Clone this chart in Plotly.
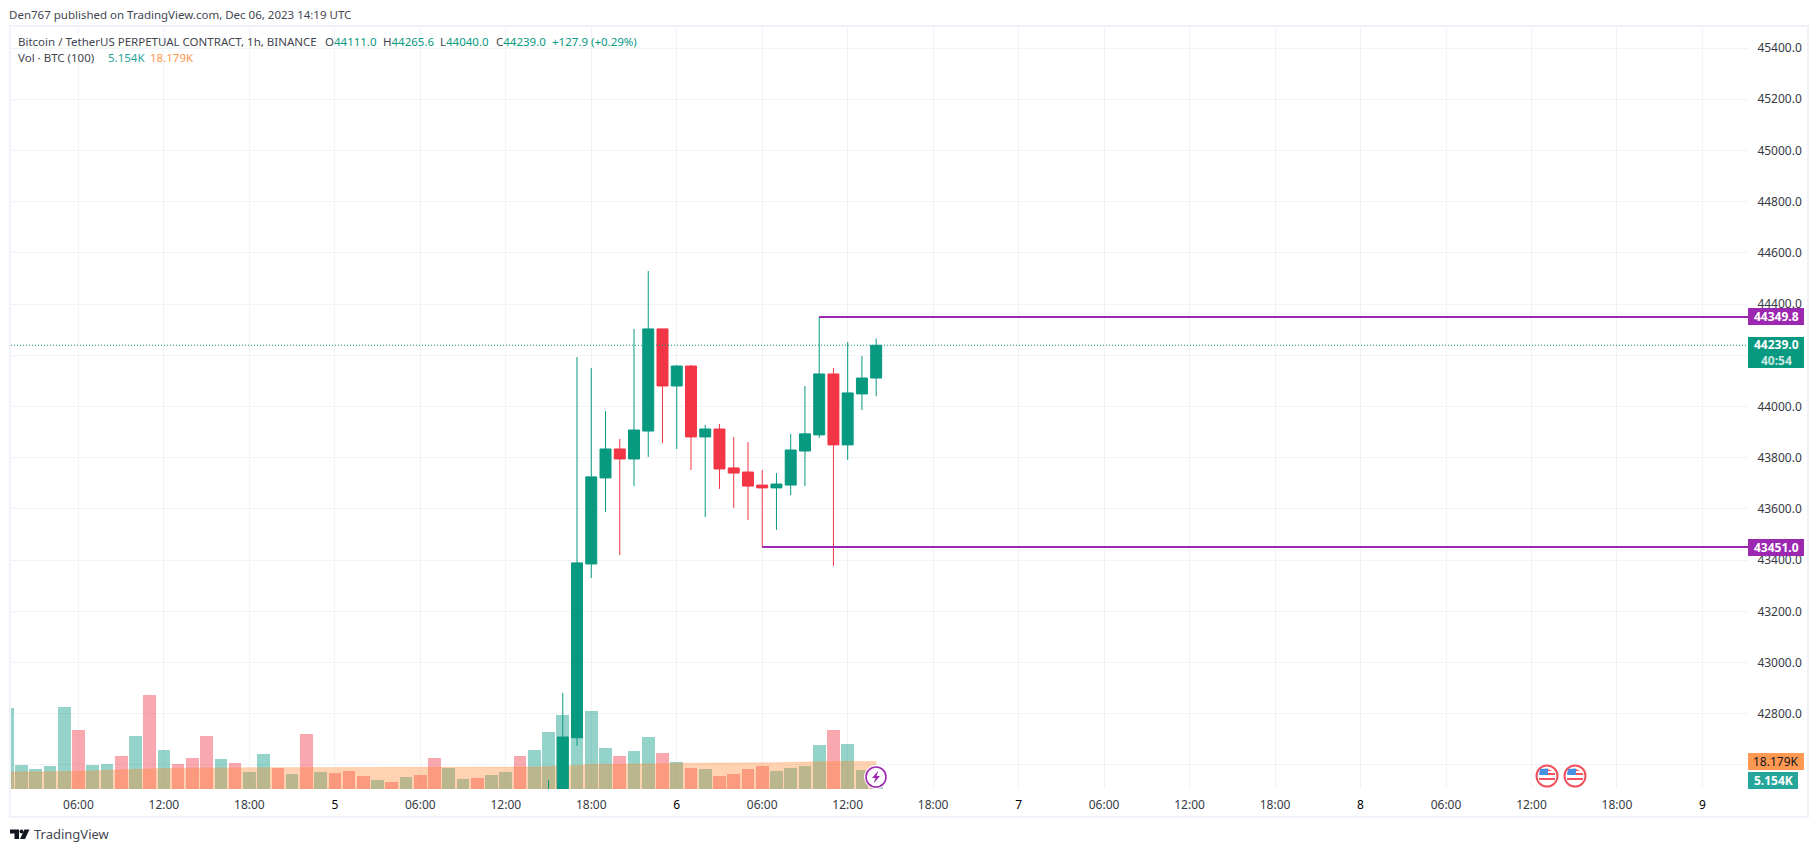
import plotly.graph_objects as go
from datetime import datetime, timedelta

# ---------- data ----------
vol_start = datetime(2023, 12, 4, 1)
volume_k = [53.5, 15.9, 13.2, 15.2, 54.2, 39.0, 15.9, 16.5, 21.8, 35.0, 62.1, 25.8, 16.5, 20.5, 35.0, 19.8, 17.2, 11.2, 23.1, 13.9, 9.9, 36.4, 11.2,
            10.6, 11.9, 8.6, 5.9, 4.6, 7.9, 9.3, 20.5, 13.9, 6.6, 7.3, 9.3, 11.2, 21.8, 25.8, 37.7, 48.9, 125.6, 51.6, 27.1, 21.8, 25.1, 34.4, 23.8,
            17.8, 13.9, 13.2, 8.6, 9.9, 13.2, 15.2, 11.9, 13.9, 15.2, 29.1, 39.0, 29.7, 12.6, 5.154]
vol_up = [1,1,1,1,1,0,1,1,0,1,0,1,0,0,0,1,0,1,1,0,1,0,1,
          0,0,0,1,0,1,0,0,1,1,0,1,1,0,1,1,1,1,1,1,0,1,1,0,
          1,0,1,0,0,0,0,1,1,1,1,0,1,1,1]
vol_ma_k = [11.2, 11.2, 11.2, 11.2, 11.5, 11.7, 12.1, 12.3, 12.6, 13.0, 13.4, 13.7, 13.7, 13.9, 13.9, 14.1, 14.1, 14.1, 14.1, 14.1, 14.1, 14.1, 14.1,
            14.3, 14.3, 14.3, 14.3, 14.3, 14.3, 14.3, 14.3, 14.3, 14.3, 14.3, 14.3, 14.3, 14.5, 14.5, 14.8, 15.0, 15.6, 16.3, 16.3, 16.3, 16.5, 16.5, 16.7,
            17.0, 17.0, 17.2, 17.2, 17.2, 17.2, 17.4, 17.4, 17.6, 17.8, 18.1, 18.1, 18.3, 18.2, 18.179]

candle_start = datetime(2023, 12, 5, 15)
opens  = [42400, 42470, 42706, 43385, 43721, 43834, 43795, 43904, 44303, 44080, 44158, 43881, 43912, 43760, 43744, 43693, 43682, 43693, 43826, 43889, 44127, 43850, 44049, 44111]
highs  = [42541, 42881, 44193, 44150, 43982, 43873, 44303, 44529, 44303, 44162, 44162, 43928, 43932, 43881, 43861, 43752, 43740, 43893, 44080, 44349.8, 44150, 44252, 44197, 44265.6]
lows   = [42350, 42420, 42675, 43330, 43588, 43420, 43689, 43803, 43857, 43834, 43752, 43568, 43678, 43604, 43557, 43451, 43518, 43654, 43689, 43877, 43377, 43791, 43986, 44040]
closes = [42480, 42709, 43389, 43725, 43834, 43795, 43908, 44303, 44080, 44158, 43881, 43912, 43756, 43740, 43689, 43682, 43697, 43830, 43893, 44127, 43850, 44053, 44111, 44239]

price_ticks = [42600 + 200 * i for i in range(15)]
time_ticks = ["2023-12-04 06:00", "2023-12-04 12:00", "2023-12-04 18:00", "2023-12-05 00:00", "2023-12-05 06:00", "2023-12-05 12:00", "2023-12-05 18:00",
              "2023-12-06 00:00", "2023-12-06 06:00", "2023-12-06 12:00", "2023-12-06 18:00", "2023-12-07 00:00", "2023-12-07 06:00", "2023-12-07 12:00", "2023-12-07 18:00",
              "2023-12-08 00:00", "2023-12-08 06:00", "2023-12-08 12:00", "2023-12-08 18:00", "2023-12-09 00:00"]
time_labels = ["06:00", "12:00", "18:00", "5", "06:00", "12:00", "18:00", "6", "06:00", "12:00", "18:00", "7", "06:00", "12:00", "18:00", "8", "06:00", "12:00", "18:00", "9"]
high_level = 44349.8
low_level = 43451.0
last_price = 44239.0

GREEN = "#089981"
RED = "#F23645"
PURPLE = "#9C27B0"
FONT = "Noto Sans"

# ---------- geometry helpers for decoration only ----------
L, R, T, B = 11, 1748, 26, 789
fx = lambda x: (x - L) / (R - L)
fy = lambda y: (B - y) / (B - T)

vol_x = [vol_start + timedelta(hours=i) for i in range(len(volume_k))]
candle_x = [candle_start + timedelta(hours=i) for i in range(len(opens))]

fig = go.Figure()
fig.add_bar(x=vol_x, y=volume_k, width=3600000 * 0.89,
            marker=dict(color=["rgba(8,153,129,0.43)" if u else "rgba(242,54,69,0.43)" for u in vol_up], line_width=0),
            xaxis="x", yaxis="y", hoverinfo="skip", showlegend=False)
fig.add_scatter(x=vol_x, y=vol_ma_k, mode="lines", fill="tozeroy",
                line=dict(color="rgba(255,152,80,0.25)", width=1), fillcolor="rgba(255,130,40,0.36)",
                xaxis="x", yaxis="y", hoverinfo="skip", showlegend=False)
fig.add_candlestick(x=candle_x, open=opens, high=highs, low=lows, close=closes,
                    increasing=dict(line=dict(color=GREEN, width=1), fillcolor=GREEN),
                    decreasing=dict(line=dict(color=RED, width=1), fillcolor=RED),
                    xaxis="x", yaxis="y2", showlegend=False)

shapes = []
# last price dotted
shapes.append(dict(type="line", xref="paper", x0=0, x1=1, yref="y2", y0=last_price, y1=last_price,
                   line=dict(color=GREEN, width=1, dash="1px,2px")))
# levels
shapes.append(dict(type="line", xref="x", x0="2023-12-06 10:00", x1="2023-12-09 03:12", yref="y2", y0=high_level, y1=high_level,
                   line=dict(color=PURPLE, width=2)))
shapes.append(dict(type="line", xref="x", x0="2023-12-06 06:00", x1="2023-12-09 03:12", yref="y2", y0=low_level, y1=low_level,
                   line=dict(color=PURPLE, width=2)))

def prect(x0, y0, x1, y1, **kw):
    shapes.append(dict(type="rect", xref="paper", yref="paper", x0=fx(x0), x1=fx(x1), y0=fy(y0), y1=fy(y1), layer="above", **kw))

def pcirc(cx, cy, r, **kw):
    prect(cx - r, cy - r, cx + r, cy + r, **{**kw})
    shapes[-1]["type"] = "circle"

def ppath(points, **kw):
    d = "M" + " L".join(f"{fx(x):.5f},{fy(y):.5f}" for x, y in points) + " Z"
    shapes.append(dict(type="path", xref="paper", yref="paper", path=d, layer="above", **kw))

# outer frame
prect(10, 26, 1808, 817, line=dict(color="#F0F3FA", width=2), fillcolor="rgba(0,0,0,0)")

# lightning icon
pcirc(876, 777, 11.5, line=dict(color="white", width=1), fillcolor="white")
pcirc(876, 777, 10, line=dict(color=PURPLE, width=1.6), fillcolor="white")
ppath([(878.5, 770.5), (872, 778), (875.5, 778), (873.5, 783.5), (880, 776), (876.5, 776)], fillcolor=PURPLE, line_width=0)

# US flag icons
for cx in (1547, 1575):
    cy = 776
    pcirc(cx, cy, 10.5, line=dict(color="#F2525E", width=2), fillcolor="white")
    ppath([(cx - 7, cy - 7), (cx + 1, cy - 7.5), (cx + 1, cy - 1), (cx - 8, cy - 1)], fillcolor="#4A90E2", line_width=0)
    ppath([(cx + 1, cy - 7), (cx + 5, cy - 5), (cx + 1, cy - 5)], fillcolor="#F2525E", line_width=0)
    prect(cx + 1, cy - 3, cx + 8, cy - 1, fillcolor="#F2525E", line_width=0)
    prect(cx - 8, cy + 2, cx + 8, cy + 4, fillcolor="#F2525E", line_width=0)

# TradingView logo
ppath([(10, 829.5), (19, 829.5), (19, 839), (14.5, 839), (14.5, 833.5), (10, 833.5)], fillcolor="#131722", line_width=0)
pcirc(21.5, 831.5, 2, fillcolor="#131722", line_width=0)
ppath([(24.5, 829.5), (29.5, 829.5), (25, 839), (20, 839)], fillcolor="#131722", line_width=0)

ann = []
def text(x, y, s, size=12, color="#131722", anchor="left", **kw):
    ann.append(dict(xref="paper", yref="paper", x=fx(x), y=fy(y), text=s, showarrow=False, xanchor=anchor, yanchor="middle",
                    font=dict(family=FONT, size=size, color=color), borderpad=0, **kw))

def tag(y0, y1, s, bg, color, x0=1748, x1=1804, size=12):
    prect(x0, y0, x1, y1, fillcolor=bg, line_width=0)
    text((x0 + x1) / 2, (y0 + y1) / 2, s, size=size, color=color, anchor="center")

text(8, 15, "Den767 published on TradingView.com, Dec 06, 2023 14:19 UTC", size=11.5, color="#434651")
text(17, 41, "Bitcoin / TetherUS PERPETUAL CONTRACT, 1h, BINANCE", size=11.5, color="#434651")
for lx, lab, val in [(324, "O", "44111.0"), (382, "H", "44265.6"), (439, "L", "44040.0"), (495, "C", "44239.0")]:
    text(lx, 41, f"{lab}<span style='color:{GREEN}'>{val}</span>", size=11.5, color="#434651")
text(551, 41, "+127.9 (+0.29%)", size=11.5, color=GREEN)
text(17, 58, "Vol · BTC (100)", size=11.5, color="#434651")
text(107, 58, "5.154K", size=11.5, color="#26A69A")
text(149, 58, "18.179K", size=11.5, color="#FF9850")
text(33, 834, "TradingView", size=13, color="#434651")

tag(308, 325, "<b>44349.8</b>", PURPLE, "white")
tag(539, 556, "<b>43451.0</b>", PURPLE, "white")
tag(337, 368, "", GREEN, "white")
text(1776, 345, "<b>44239.0</b>", color="white", anchor="center")
text(1776, 360, "<b>40:54</b>", color="#C8E8E2", anchor="center")
tag(753, 770, "18.179K", "#FF9850", "#131722")
tag(772, 789, "<b>5.154K</b>", "#26A69A", "white", x1=1798)

fig.update_layout(
    width=1818, height=852, autosize=False,
    margin=dict(l=L, r=1818 - R, t=T, b=852 - B),
    paper_bgcolor="white", plot_bgcolor="white",
    font=dict(family=FONT, size=12, color="#363A45"),
    boxmode="overlay", boxgap=0, boxgroupgap=0.23,
    bargap=0, barmode="overlay", showlegend=False,
    shapes=shapes, annotations=ann,
    xaxis=dict(type="date", range=["2023-12-04 01:16", "2023-12-09 03:12"], tickmode="array", tickvals=time_ticks,
               ticktext=[f"<span style='color:#000'>{t}</span>" if ":" not in t else t for t in time_labels],
               showgrid=True, gridcolor="#F2F3F7", gridwidth=1, zeroline=False, showline=False,
               ticks="outside", ticklen=5, tickcolor="rgba(0,0,0,0)", rangeslider=dict(visible=False), tickangle=0),
    yaxis=dict(range=[0, 504], visible=False, showgrid=False, zeroline=False, fixedrange=True),
    yaxis2=dict(overlaying="y", side="right", range=[42506, 45486], tickmode="array", tickvals=price_ticks,
                ticktext=[f"{p:.1f}" if p > 42600 else "" for p in price_ticks],
                showgrid=True, gridcolor="#F2F3F7", gridwidth=1, zeroline=False, showline=False,
                ticks="outside", ticklen=6, tickcolor="rgba(0,0,0,0)"),
)

fig.write_html("out.html", config=dict(displayModeBar=False),
               post_script="document.body.style.margin='0';document.body.style.overflow='hidden';")
